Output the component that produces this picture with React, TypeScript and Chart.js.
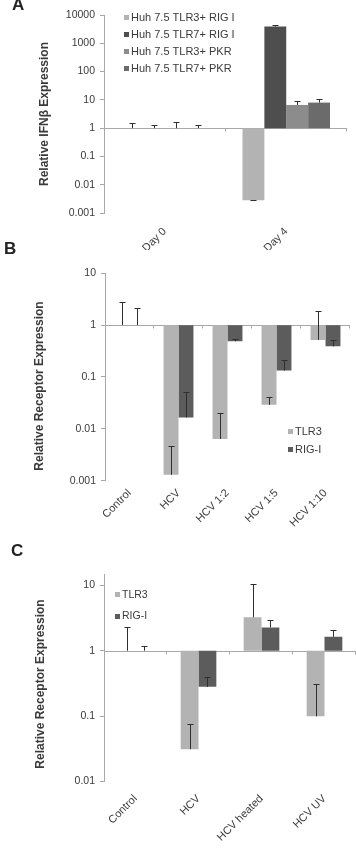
import React, { useEffect, useRef } from 'react';
import { Chart, registerables } from 'chart.js';

Chart.register(...registerables);

const FONT = "'Liberation Sans', Arial, Helvetica, sans-serif";
const TEXT = '#3a3a3a';
const AXIS = '#a8a8a8';
const WHISKER = '#2e2e2e';

// Panel A: IFNβ induction at day 0 and day 4
const dayLabels = ['Day 0', 'Day 4'];
const tlr3RigI = [1, 0.0028];
const tlr3RigIUpper = [1.5, 0.0029];
const tlr7RigI = [1, 3900];
const tlr7RigIUpper = [1.28, 4600];
const tlr3Pkr = [1, 6.6];
const tlr3PkrUpper = [1.71, 9.4];
const tlr7Pkr = [1, 8.0];
const tlr7PkrUpper = [1.31, 10.8];
const ticksA = [0.001, 0.01, 0.1, 1, 10, 100, 1000, 10000];

// Panel B: receptor expression across HCV dilutions
const dilutionLabels = ['Control', 'HCV', 'HCV 1:2', 'HCV 1:5', 'HCV 1:10'];
const tlr3Dilution = [1, 0.0013, 0.0064, 0.029, 0.52];
const tlr3DilutionUpper = [2.75, 0.0047, 0.02, 0.041, 1.86];
const rigIDilution = [1, 0.0166, 0.49, 0.133, 0.39];
const rigIDilutionUpper = [2.1, 0.052, 0.55, 0.21, 0.51];
const ticksB = [0.001, 0.01, 0.1, 1, 10];

// Panel C: receptor expression after virus inactivation
const treatmentLabels = ['Control', 'HCV', 'HCV heated', 'HCV UV'];
const tlr3Treatment = [1, 0.031, 3.25, 0.099];
const tlr3TreatmentUpper = [2.3, 0.076, 10.7, 0.31];
const rigITreatment = [1, 0.28, 2.28, 1.64];
const rigITreatmentUpper = [1.19, 0.39, 2.97, 2.1];
const ticksC = [0.01, 0.1, 1, 10];

type Series = { label: string; values: number[]; upper: number[]; color: string };

type PanelSpec = {
  top: number;
  width: number;
  height: number;
  area: { left: number; right: number; top: number; bottom: number };
  min: number;
  max: number;
  ticks: number[];
  labels: string[];
  series: Series[];
  barFraction: number;
  labelPad: number;
  title: { text: string; x: number; y: number };
  legend: { x: number; y: number; gap: number; size: number; fontSize: number };
};

// Whiskers run from the end of each bar up to its upper error value
const errorBars = {
  id: 'errorBars',
  afterDatasetsDraw(chart: any) {
    const { ctx } = chart;
    const yScale = chart.scales.y;
    ctx.save();
    ctx.strokeStyle = WHISKER;
    ctx.lineWidth = 1;
    chart.data.datasets.forEach((ds: any, i: number) => {
      const meta = chart.getDatasetMeta(i);
      meta.data.forEach((bar: any, j: number) => {
        const v = ds.data[j][1];
        const u = ds.errUpper[j];
        const x = Math.round(bar.x) + 0.5;
        const y0 = yScale.getPixelForValue(v);
        const y1 = Math.round(yScale.getPixelForValue(u)) + 0.5;
        ctx.beginPath();
        ctx.moveTo(x, y0);
        ctx.lineTo(x, y1);
        ctx.moveTo(x - 3, y1);
        ctx.lineTo(x + 3, y1);
        ctx.stroke();
      });
    });
    ctx.restore();
  },
};

// Category axis drawn through y = 1, with small separators between groups
const baseline = {
  id: 'baseline',
  beforeDatasetsDraw(chart: any) {
    const { ctx, chartArea } = chart;
    const y = Math.round(chart.scales.y.getPixelForValue(1)) + 0.5;
    const n = chart.data.labels.length;
    const w = (chartArea.right - chartArea.left) / n;
    ctx.save();
    ctx.strokeStyle = AXIS;
    ctx.lineWidth = 1;
    ctx.beginPath();
    ctx.moveTo(chartArea.left, y);
    ctx.lineTo(chartArea.right, y);
    for (let i = 1; i <= n; i++) {
      const x = Math.round(chartArea.left + i * w) - 0.5;
      ctx.moveTo(x, y);
      ctx.lineTo(x, y + 3);
    }
    ctx.stroke();
    ctx.restore();
  },
};

const boxLegend = {
  id: 'boxLegend',
  afterDraw(chart: any, _args: any, opts: any) {
    const { ctx } = chart;
    ctx.save();
    ctx.font = `${opts.fontSize}px ${FONT}`;
    ctx.textBaseline = 'middle';
    ctx.textAlign = 'left';
    chart.data.datasets.forEach((ds: any, i: number) => {
      const cy = opts.y + i * opts.gap;
      ctx.fillStyle = ds.backgroundColor;
      ctx.fillRect(opts.x, Math.round(cy - opts.size / 2), opts.size, opts.size);
      ctx.fillStyle = TEXT;
      ctx.fillText(ds.label, opts.x + opts.size + 2, cy + 0.5);
    });
    ctx.restore();
  },
};

const sideTitle = {
  id: 'sideTitle',
  afterDraw(chart: any, _args: any, opts: any) {
    const { ctx } = chart;
    ctx.save();
    ctx.translate(opts.x, opts.y);
    ctx.rotate(-Math.PI / 2);
    ctx.font = `bold 12px ${FONT}`;
    ctx.textAlign = 'center';
    ctx.textBaseline = 'middle';
    ctx.fillStyle = TEXT;
    ctx.fillText(opts.text, 0, 0);
    ctx.restore();
  },
};

function buildConfig(p: PanelSpec): any {
  const yWidth = p.area.left;
  const xHeight = p.height - p.area.bottom;
  return {
    type: 'bar',
    data: {
      labels: p.labels,
      datasets: p.series.map((s) => ({
        label: s.label,
        data: s.values.map((v) => [1, v]),
        errUpper: s.upper,
        backgroundColor: s.color,
        borderWidth: 0,
        categoryPercentage: p.barFraction,
        barPercentage: 1,
      })),
    },
    options: {
      responsive: false,
      animation: false,
      events: [],
      layout: {
        padding: { left: 0, top: p.area.top, right: p.width - p.area.right, bottom: 0 },
      },
      plugins: {
        legend: { display: false },
        tooltip: { enabled: false },
        title: { display: false },
        boxLegend: p.legend,
        sideTitle: p.title,
      },
      scales: {
        x: {
          type: 'category',
          offset: true,
          grid: { display: false, drawTicks: false },
          border: { display: false },
          ticks: {
            autoSkip: false,
            minRotation: 45,
            maxRotation: 45,
            padding: p.labelPad,
            color: TEXT,
            font: { family: FONT, size: 11 },
          },
          afterFit: (s: any) => {
            s.height = xHeight;
          },
        },
        y: {
          type: 'logarithmic',
          min: p.min,
          max: p.max,
          grid: {
            display: true,
            drawOnChartArea: false,
            drawTicks: true,
            tickLength: 4,
            color: AXIS,
          },
          border: { display: true, color: AXIS, width: 1 },
          ticks: {
            autoSkip: false,
            padding: 5,
            color: TEXT,
            font: { family: FONT, size: 10.5 },
            callback: (v: any) => String(v),
          },
          afterBuildTicks: (s: any) => {
            s.ticks = p.ticks.map((value) => ({ value }));
          },
          afterFit: (s: any) => {
            s.width = yWidth;
          },
        },
      },
    },
    plugins: [baseline, errorBars, boxLegend, sideTitle],
  };
}

const panelA: PanelSpec = {
  top: 0,
  width: 356,
  height: 250,
  area: { left: 104, right: 347, top: 15, bottom: 213 },
  min: 0.001,
  max: 10000,
  ticks: ticksA,
  labels: dayLabels,
  series: [
    { label: 'Huh 7.5 TLR3+ RIG I', values: tlr3RigI, upper: tlr3RigIUpper, color: '#b3b3b3' },
    { label: 'Huh 7.5 TLR7+ RIG I', values: tlr7RigI, upper: tlr7RigIUpper, color: '#4e4e4e' },
    { label: 'Huh 7.5 TLR3+ PKR', values: tlr3Pkr, upper: tlr3PkrUpper, color: '#8c8c8c' },
    { label: 'Huh 7.5 TLR7+ PKR', values: tlr7Pkr, upper: tlr7PkrUpper, color: '#6b6b6b' },
  ],
  barFraction: 0.72,
  labelPad: 12,
  title: { text: 'Relative IFNβ Expression', x: 45, y: 114 },
  legend: { x: 124, y: 17.5, gap: 17, size: 5, fontSize: 11 },
};

const panelB: PanelSpec = {
  top: 250,
  width: 356,
  height: 290,
  area: { left: 105, right: 350, top: 23.3, bottom: 230.7 },
  min: 0.001,
  max: 10,
  ticks: ticksB,
  labels: dilutionLabels,
  series: [
    { label: 'TLR3', values: tlr3Dilution, upper: tlr3DilutionUpper, color: '#b3b3b3' },
    { label: 'RIG-I', values: rigIDilution, upper: rigIDilutionUpper, color: '#5c5c5c' },
  ],
  barFraction: 0.61,
  labelPad: 6,
  title: { text: 'Relative Receptor Expression', x: 40, y: 136 },
  legend: { x: 288, y: 181.7, gap: 17.5, size: 5, fontSize: 11 },
};

const panelC: PanelSpec = {
  top: 540,
  width: 356,
  height: 308,
  area: { left: 104, right: 356, top: 34, bottom: 241.3 },
  min: 0.01,
  max: 15,
  ticks: ticksC,
  labels: treatmentLabels,
  series: [
    { label: 'TLR3', values: tlr3Treatment, upper: tlr3TreatmentUpper, color: '#b3b3b3' },
    { label: 'RIG-I', values: rigITreatment, upper: rigITreatmentUpper, color: '#5c5c5c' },
  ],
  barFraction: 0.566,
  labelPad: 11,
  title: { text: 'Relative Receptor Expression', x: 41, y: 144 },
  legend: { x: 115, y: 54.3, gap: 21.7, size: 5, fontSize: 10.5 },
};

function Panel({ spec }: { spec: PanelSpec }) {
  const ref = useRef<HTMLCanvasElement>(null);
  useEffect(() => {
    const chart = new Chart(ref.current as HTMLCanvasElement, buildConfig(spec));
    return () => chart.destroy();
  }, [spec]);
  return (
    <canvas
      ref={ref}
      width={spec.width}
      height={spec.height}
      style={{ position: 'absolute', left: 0, top: spec.top, width: spec.width, height: spec.height }}
    />
  );
}

const letterStyle: React.CSSProperties = {
  position: 'absolute',
  font: `bold 17px ${FONT}`,
  lineHeight: '17px',
  color: '#222',
};

export default function App() {
  return (
    <div
      style={{
        position: 'absolute',
        left: 0,
        top: 0,
        width: 356,
        height: 848,
        overflow: 'hidden',
        background: '#fff',
      }}
    >
      <Panel spec={panelA} />
      <Panel spec={panelB} />
      <Panel spec={panelC} />
      <div style={{ ...letterStyle, left: 12, top: -4 }}>A</div>
      <div style={{ ...letterStyle, left: 4, top: 240 }}>B</div>
      <div style={{ ...letterStyle, left: 11, top: 542 }}>C</div>
    </div>
  );
}
